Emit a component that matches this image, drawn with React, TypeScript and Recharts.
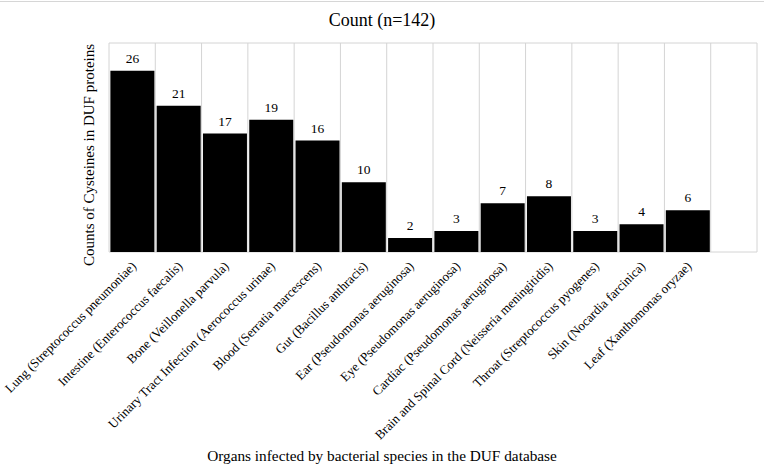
import { BarChart, Bar, XAxis, YAxis, CartesianGrid, LabelList } from 'recharts';

const organs = [
  'Lung (Streptococcus pneumoniae)',
  'Intestine (Enterococcus faecalis)',
  'Bone (Veillonella parvula)',
  'Urinary Tract Infection (Aerococcus urinae)',
  'Blood (Serratia marcescens)',
  'Gut (Bacillus anthracis)',
  'Ear (Pseudomonas aeruginosa)',
  'Eye (Pseudomonas aeruginosa)',
  'Cardiac (Pseudomonas aeruginosa)',
  'Brain and Spinal Cord (Neisseria meningitidis)',
  'Throat (Streptococcus pyogenes)',
  'Skin (Nocardia farcinica)',
  'Leaf (Xanthomonas oryzae)',
  '', // empty slot at the end
];
const counts = [26, 21, 17, 19, 16, 10, 2, 3, 7, 8, 3, 4, 6, null];
const yTicks = [0, 5, 10, 15, 20, 25, 30];

const chartData = organs.map((name, i) => ({ name, count: counts[i] }));

const serif = '"Liberation Serif", "Times New Roman", serif';

function OrganTick(props: any) {
  const { x, y, payload } = props;
  return (
    <g transform={`translate(${x + 2},${y})`}>
      <text
        x={0}
        y={0}
        dy={4}
        textAnchor="end"
        transform="rotate(-45)"
        fontSize={13}
        fontFamily={serif}
        fill="#000"
      >
        {payload.value}
      </text>
    </g>
  );
}

export default function App() {
  return (
    <div style={{ position: 'absolute', left: 0, top: 0, width: 764, height: 470, background: '#fff', fontFamily: serif }}>
      <div style={{ position: 'absolute', left: 0, top: 1, width: 764, height: 1, background: '#d6d6d6' }} />
      <div style={{ position: 'absolute', left: 0, top: 10, width: 764, textAlign: 'center', fontSize: 18, color: '#000' }}>
        Count (n=142)
      </div>
      <div style={{ position: 'absolute', left: 89, top: 155, width: 0, height: 0, overflow: 'visible' }}>
        <div
          style={{
            position: 'absolute',
            left: -150,
            top: -9,
            width: 300,
            textAlign: 'center',
            fontSize: 15,
            lineHeight: '18px',
            whiteSpace: 'nowrap',
            transform: 'rotate(-90deg)',
            color: '#000',
          }}
        >
          Counts of Cysteines in DUF proteins
        </div>
      </div>
      <div style={{ position: 'absolute', left: 0, top: 447, width: 764, textAlign: 'center', fontSize: 15.3, color: '#000' }}>
        Organs infected by bacterial species in the DUF database
      </div>
      <BarChart
        width={764}
        height={470}
        data={chartData}
        margin={{ top: 43, right: 7, left: 0, bottom: 18 }}
        barCategoryGap="3%"
        style={{ position: 'absolute', left: 0, top: 0 }}
      >
        <CartesianGrid
          stroke="#d4d4d4"
          strokeWidth={1}
          verticalCoordinatesGenerator={({ offset }: any) =>
            organs.map((_, i) => offset.left + (i * offset.width) / organs.length).concat(offset.left + offset.width)
          }
        />
        <XAxis
          dataKey="name"
          interval={0}
          height={200}
          axisLine={false}
          tickLine={false}
          tick={<OrganTick />}
          tickMargin={6}
        />
        <YAxis
          width={109}
          domain={[0, 30]}
          ticks={yTicks}
          tick={false}
          axisLine={false}
          tickLine={false}
        />
        <Bar dataKey="count" fill="#000" isAnimationActive={false}>
          <LabelList dataKey="count" position="top" offset={8} fill="#000" fontSize={13.5} fontFamily={serif} />
        </Bar>
      </BarChart>
    </div>
  );
}
